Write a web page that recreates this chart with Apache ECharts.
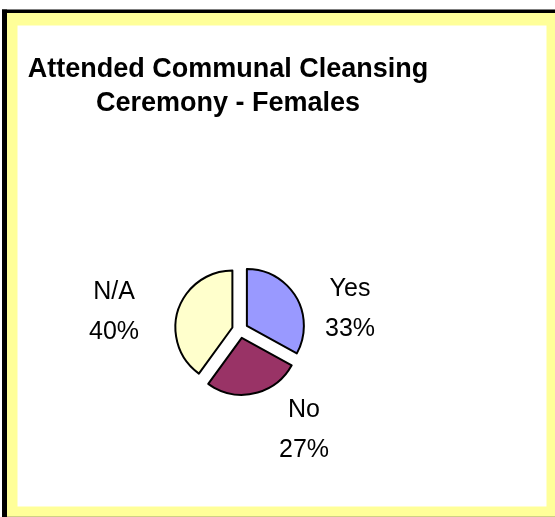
<!DOCTYPE html>
<html>
<head>
<meta charset="utf-8">
<script src="https://cdn.jsdelivr.net/npm/echarts@6/dist/echarts.min.js"></script>
<style>
  html, body { margin: 0; padding: 0; background: #ffffff; overflow: hidden; }
  #chart { width: 555px; height: 517px; }
</style>
</head>
<body>
<div id="chart"></div>
<script>
// Survey answers and their shares (percent)
const categories = ['Yes', 'No', 'N/A'];
const shares = [33, 27, 40];
const sliceColors = ['#9999FF', '#993366', '#FFFFCC'];

// Centre of each slice's two-line label block
const labelCenters = {
  'Yes': [350, 309],
  'No': [304, 430],
  'N/A': [114, 312]
};

const FONT = '"Liberation Sans", Arial, Helvetica, sans-serif';

const chart = echarts.init(document.getElementById('chart'), null, { renderer: 'canvas' });

// Category labels: name on the first line, share on the second
const sliceLabels = categories.map((name, i) => ({
  type: 'text', silent: true, z: 10,
  x: labelCenters[name][0],
  y: labelCenters[name][1],
  style: {
    text: name + '\n' + shares[i] + '%',
    font: '25px ' + FONT,
    fill: '#000000',
    textAlign: 'center',
    textVerticalAlign: 'middle',
    lineHeight: 40
  }
}));

chart.setOption({
  animation: false,
  backgroundColor: '#ffffff',
  graphic: [
    // frame: yellow band with a black top/left edge, white plot area inside
    { type: 'rect', silent: true, z: -30, shape: { x: 7, y: 13, width: 548, height: 504 }, style: { fill: '#FFFF99' } },
    { type: 'rect', silent: true, z: -29, shape: { x: 2, y: 9.5, width: 553, height: 3.5 }, style: { fill: '#000000' } },
    { type: 'rect', silent: true, z: -29, shape: { x: 2, y: 9.5, width: 5, height: 508 }, style: { fill: '#000000' } },
    { type: 'rect', silent: true, z: -28, shape: { x: 7, y: 516, width: 548, height: 1 }, style: { fill: '#cfcf86' } },
    { type: 'rect', silent: true, z: -27, shape: { x: 17.5, y: 25.5, width: 529, height: 481 }, style: { fill: '#ffffff' } },
    {
      type: 'text', silent: true, z: 10,
      x: 228, y: 53,
      style: {
        text: 'Attended Communal Cleansing\nCeremony - Females',
        font: 'bold 27px ' + FONT,
        fill: '#000000',
        textAlign: 'center',
        textVerticalAlign: 'top',
        lineHeight: 34
      }
    }
  ].concat(sliceLabels),
  series: [{
    type: 'pie',
    center: [240, 330],
    radius: 57,
    startAngle: 90,
    clockwise: true,
    selectedMode: 'multiple',
    selectedOffset: 8,
    emphasis: { disabled: true },
    select: { itemStyle: { borderColor: '#000000', borderWidth: 2 } },
    itemStyle: { borderColor: '#000000', borderWidth: 2 },
    label: { show: false },
    labelLine: { show: false },
    data: categories.map((name, i) => ({
      name: name,
      value: shares[i],
      selected: true,
      itemStyle: { color: sliceColors[i] }
    }))
  }]
});
</script>
</body>
</html>
